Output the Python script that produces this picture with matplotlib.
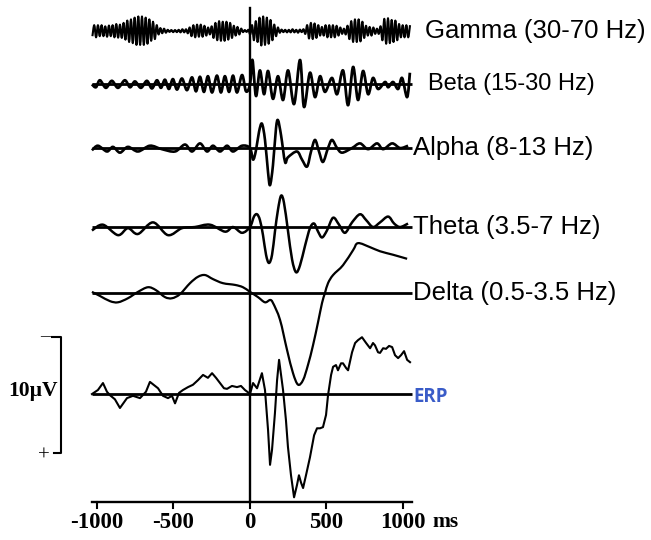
import numpy as np
import matplotlib.pyplot as plt
from matplotlib.path import Path
from matplotlib.patches import PathPatch

# ---- data (time in ms, amplitude in microvolts, positive = down) ----
tick_ms = [-1000, -500, 0, 500, 1000]
tick_labels = ["-1000", "-500", "0", "500", "1000"]

band_names = ["Gamma (30-70 Hz)", "Beta (15-30 Hz)", "Alpha (8-13 Hz)",
              "Theta (3.5-7 Hz)", "Delta (0.5-3.5 Hz)", "ERP"]

# gamma: peak / trough values sampled every 12 ms
gamma_t = np.arange(-1030, 1047, 12)
gamma_v = [0.45, -0.5, 0.55, -0.5, 0.45, -0.5,
           0.45, -0.4, 0.5, -0.47, 0.45, -0.5,
           0.55, -0.6, 0.58, -0.55, 0.6,
           -0.7, 0.75,
           -0.9, 0.95, -1.0, 1.05,
           -1.15, 1.2, -1.25, 1.2, -1.25, 1.2, -1.15, 1.1, -1.0,
           0.85, -0.8, 0.7, -0.5,
           0.3, -0.25, 0.2, -0.2, 0.15,
           -0.1, 0.08, -0.08, 0.1, -0.08, 0.1, -0.1,
           0.12, -0.15, 0.12, -0.15, 0.2, -0.3,
           0.45, -0.5, 0.55, -0.55, 0.5, -0.55, 0.5, -0.45, 0.4,
           -0.3, 0.3, -0.4,
           0.6, -0.7, 0.8, -0.85, 0.85, -0.8, 0.85, -0.8, 0.75, -0.7, 0.6,
           -0.45, 0.4, -0.35, 0.3, -0.2,
           0.1, -0.08, 0.08, -0.1,
           0.3, -0.5,
           0.8, -0.85, 0.95,
           -1.15, 1.25, -1.25, 1.2, -1.15, 1.1, -0.95, 0.8,
           -0.55, 0.45, -0.3,
           0.15, -0.12, 0.1, -0.1, 0.12, -0.1, 0.12, -0.15, 0.12, -0.1, 0.15, -0.12, 0.1, -0.15, 0.25,
           -0.5, 0.65, -0.7, 0.7, -0.65, 0.6, -0.5,
           0.4, -0.35, 0.4,
           -0.5, 0.55, -0.5, 0.55, -0.5, 0.55, -0.45, 0.4, -0.3,
           0.25, -0.2, 0.3, -0.45,
           0.7, -0.85, 0.95, -1.0, 0.95, -1.0, 0.9, -0.8, 0.6,
           -0.45, 0.4, -0.35, 0.4, -0.3,
           0.25, -0.2, 0.25, -0.4,
           0.8, -1.05, 1.1, -1.1, 1.05,
           -0.95, 0.95, -0.9, 0.8,
           -0.6, 0.55, -0.5, 0.55, -0.5, 0.55, -0.5]

beta_t = [-1033, -1007, -981, -942, -903, -863, -818, -784, -752, -713, -674, -641,
          -608, -582, -556, -530, -504, -477, -445, -412, -379, -353, -327, -301,
          -275, -248, -216, -190, -164, -137, -111, -85, -52, -26, 0, 16, 39, 65,
          92, 118, 150, 183, 216, 249, 288, 327, 353, 392, 425, 458, 490, 536,
          569, 608, 641, 674, 706, 739, 772, 804, 837, 883, 903, 935, 968, 994,
          1027, 1045]
beta_v = [0.0, 0.25, -0.35, 0.3, -0.3, 0.3, -0.35, 0.25, -0.25, 0.3, -0.3, 0.35,
          -0.35, 0.3, -0.4, 0.4, -0.45, 0.45, -0.5, 0.5, -0.6, 0.6, -0.65, 0.65,
          -0.7, 0.7, -0.75, 0.7, -0.7, 0.65, -0.75, 0.7, -0.8, 0.6, 0.0, -2.1, 1.0, -1.2,
          0.85, -1.15, 1.25, -0.7, 1.35, -1.2, 1.7, -2.1, 1.95, -1.0, 1.1, -0.7, 0.65, -0.55,
          0.85, -1.2, 1.8, -1.5, 1.35, -1.15, 0.85, -0.55, 0.4, -0.2, 0.25, -0.2, 0.4, -0.55,
          1.1, -1.0]

alpha_t = [-1033, -994, -935, -896, -850, -798, -732, -654, -576, -490, -425, -379,
           -327, -281, -242, -196, -150, -111, -52, 0, 20, 39, 59, 78, 98, 118, 131,
           150, 170, 183, 203, 229, 248, 307, 340, 373, 399, 425, 451, 477, 510, 536,
           569, 602, 667, 719, 772, 830, 870, 929, 981, 1033]
alpha_v = [0.2, -0.2, 0.3, -0.1, 0.4, -0.1, 0.3, -0.2, 0.1, 0.3, -0.3, 0.3,
           -0.4, 0.3, -0.2, 0.3, -0.2, 0.3, -0.2, 0.0, 1.0, 0.2, -1.4, -2.1, -0.7, 2.1, 3.2,
           1.5, -1.7, -2.4, -1.1, 1.2, 0.8, 0.3, 1.0, 1.6, 0.3, -0.7, 0.3, 1.2, 0.0, -0.7,
           0.0, 0.4, 0.0, -0.4, 0.1, -0.4, 0.1, -0.4, 0.0, -0.2]

theta_t = [-1033, -961, -863, -798, -732, -634, -536, -445, -360, -262, -163, -111,
           -52, 0, 26, 46, 65, 85, 105, 124, 144, 163, 183, 203, 222, 248, 275, 301,
           327, 360, 392, 419, 445, 471, 503, 543, 582, 621, 667, 719, 759, 804, 850,
           903, 942, 981, 1033]
theta_v = [0.3, -0.2, 0.7, 0.1, 0.6, -0.4, 0.7, 0.1, 0.0, -0.2, 0.4, 0.0,
           0.5, 0.0, -0.9, -1.1, -0.6, 0.7, 2.4, 3.1, 2.4, 0.4, -1.5, -2.7, -2.1, 0.3, 2.8, 3.9,
           3.3, 1.6, 0.1, -0.3, 0.4, 0.9, 0.3, -0.8, -0.2, 0.5, -0.4, -1.1, -0.6, 0.0, -0.4,
           -0.9, -0.3, 0.0, -0.3]

delta_t = [-1033, -981, -915, -863, -798, -732, -667, -615, -556, -510, -458, -392,
           -340, -294, -242, -177, -98, -46, 0, 52, 98, 131, 150, 196, 242, 281, 314,
           347, 379, 412, 445, 471, 490, 510, 543, 608, 674, 706, 785, 850, 935, 1027]
delta_v = [-0.1, 0.25, 0.7, 0.8, 0.45, -0.1, -0.5, -0.25, 0.35, 0.45, 0.1, -0.85,
           -1.4, -1.55, -1.2, -0.85, -0.7, -0.5, -0.1, 0.35, 0.8, 0.6, 0.85, 2.3, 4.9, 6.9, 7.9,
           7.5, 6.2, 4.5, 2.5, 0.85, 0.0, -0.85, -1.55, -2.4, -3.7, -4.3, -3.95, -3.6, -3.3, -2.95]

erp_t = [-1033, -994, -961, -935, -915, -883, -850, -804, -765, -719, -680, -654,
         -601, -569, -536, -510, -490, -464, -438, -405, -373, -340, -307, -275,
         -248, -222, -196, -170, -150, -118, -85, -59, -33, -13, 0, 20, 46, 78, 98,
         118, 131, 144, 163, 177, 190, 203, 216, 235, 248, 268, 288, 307, 320, 334,
         347, 366, 392, 419, 438, 458, 477, 497, 510, 530, 543, 562, 575, 595, 608,
         628, 641, 667, 687, 706, 732, 759, 785, 804, 817, 837, 850, 870, 889, 909,
         929, 948, 968, 987, 1007, 1027, 1046]
erp_v = [0.0, -0.35, -0.95, -0.2, 0.1, 0.45, 1.2, 0.35, 0.15, 0.35, -0.2, -1.05,
         -0.5, 0.15, 0.35, 0.15, 0.8, -0.1, -0.35, -0.6, -0.8, -1.2, -1.65, -1.4,
         -1.8, -1.4, -0.95, -0.5, -0.45, -0.7, -0.6, -0.7, -0.35, -0.15, 0.0, -0.95, -0.5, -1.8, -0.35,
         3.1, 6.1, 4.8, 1.65, -1.2, -2.95, -1.65, -0.35, 2.25, 4.55, 7.0, 8.9, 7.85, 7.0, 7.65,
         8.1, 7.0, 5.45, 3.55, 2.95, 2.95, 2.85, 1.8, 0.1, -1.65, -2.35, -2.5, -2.05, -2.65, -2.65,
         -2.25, -2.05, -3.6, -4.4, -4.65, -4.9, -4.4, -3.95, -4.4, -4.2, -3.6, -3.55, -3.95, -3.9, -4.15,
         -4.05, -3.35, -3.1, -3.35, -3.7, -2.95, -2.75]

# ---- layout ----
offsets = [2.67, 7.27, 12.76, 19.57, 25.26, 33.97]
axis_y = 43.28


def smooth_path(x, y):
    # Catmull-Rom curve through the points, drawn as cubic bezier pieces
    pts = np.column_stack([x, y]).astype(float)
    verts = [pts[0]]
    codes = [Path.MOVETO]
    n = len(pts)
    for i in range(n - 1):
        p0 = pts[i - 1] if i > 0 else pts[i]
        p1, p2 = pts[i], pts[i + 1]
        p3 = pts[i + 2] if i + 2 < n else pts[i + 1]
        verts += [p1 + (p2 - p0) / 6, p2 - (p3 - p1) / 6, p2]
        codes += [Path.CURVE4] * 3
    return Path(verts, codes)


fig = plt.figure(figsize=(6.51, 5.4), dpi=100)
ax = fig.add_axes([0, 0, 1, 1])
ax.set_xlim(-1634, 2621)
ax.set_ylim(46.55, 0)
ax.axis('off')

series = [(gamma_t, gamma_v, 1.5, True), (beta_t, beta_v, 2.0, True),
          (alpha_t, alpha_v, 1.9, True), (theta_t, theta_v, 1.8, True),
          (delta_t, delta_v, 1.6, True), (erp_t, erp_v, 1.5, False)]

for i, (t, v, lw, smooth) in enumerate(series):
    off = offsets[i]
    if i > 0:
        ax.plot([-1035, 1060], [off, off], color='black', lw=2.0, solid_capstyle='butt')
    yv = np.array(v) + off
    if smooth:
        ax.add_patch(PathPatch(smooth_path(t, yv), facecolor='none', edgecolor='black',
                               lw=lw, joinstyle='round'))
    else:
        ax.plot(t, yv, color='black', lw=lw, solid_joinstyle='round')

# label text
label_x = [1144, 1163, 1065, 1065, 1065, 1065]
label_size = [18.5, 17, 18.5, 18.5, 18.5, 13.5]
for i, name in enumerate(band_names):
    if name == "ERP":
        ax.text(label_x[i], offsets[i] + 0.25, name, color='#3a5cc8', fontsize=label_size[i],
                fontweight='bold', family='Open Sans', va='center', ha='left')
    else:
        ax.text(label_x[i], offsets[i], name, fontsize=label_size[i], family='Liberation Sans',
                va='center', ha='left')

# stimulus onset line
ax.plot([0, 0], [0.69, axis_y], color='black', lw=1.7)

# time axis
ax.plot([-1035, 1060], [axis_y, axis_y], color='black', lw=1.7)
for tm, lab in zip(tick_ms, tick_labels):
    ax.plot([tm, tm], [axis_y, axis_y + 0.55], color='black', lw=1.5)
    ax.text(tm, axis_y + 1.75, lab, fontsize=16.5, fontweight='bold',
            family='Liberation Serif', ha='center', va='center')
ax.text(1190, axis_y + 1.75, "ms", fontsize=15.5, fontweight='bold',
        family='Liberation Serif', ha='left', va='center')

# 10 uV scale bar
bar_top = 29.05
bar_bot = bar_top + 10
ax.plot([-1294, -1235, -1235, -1281], [bar_top, bar_top, bar_bot, bar_bot],
        color='black', lw=1.5)
ax.text(-1340, bar_top, "\u2013", fontsize=14, family='Liberation Serif',
        ha='center', va='center')
ax.text(-1345, bar_bot + 0.3, "+", fontsize=15, family='Liberation Serif',
        ha='center', va='center')
ax.text(-1255, 33.7, "10\u00b5V", fontsize=15.5, fontweight='bold',
        family='Liberation Serif', ha='right', va='center')

fig.savefig('out.png', dpi=100)
